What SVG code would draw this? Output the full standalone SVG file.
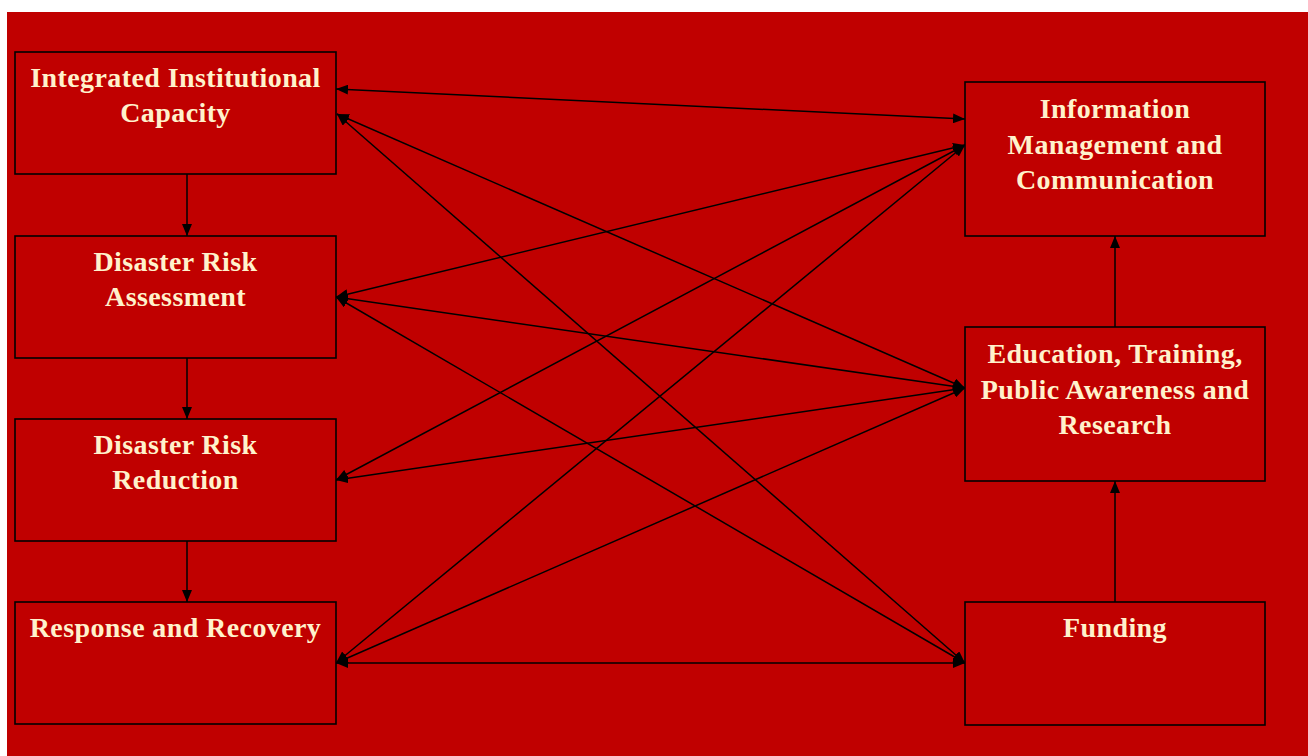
<svg xmlns="http://www.w3.org/2000/svg" width="1308" height="756" viewBox="0 0 1308 756">
<style>
.box{fill:#C00000;stroke:#000;stroke-width:1.6}
.lbl{font-family:"Liberation Serif","Times New Roman",serif;font-weight:bold;font-size:28px;letter-spacing:0.4px;fill:#FFF2CC;text-anchor:middle}
.con{stroke:#000;stroke-width:1.5;fill:none}
.bi{marker-start:url(#ah);marker-end:url(#ah)}
.uni{marker-end:url(#ah)}
</style>
<defs>
<marker id="ah" markerUnits="userSpaceOnUse" markerWidth="13" markerHeight="10" refX="12" refY="5" orient="auto-start-reverse">
<path d="M0,0 L12,5 L0,10 z" fill="#000"/>
</marker>
</defs>
<rect x="0" y="0" width="1308" height="756" fill="#FFFFFF"/>
<rect x="7" y="12" width="1301" height="744" fill="#C00000"/>

<g id="connectors">
<line class="con bi" x1="336" y1="89" x2="965" y2="119"/>
<line class="con bi" x1="337" y1="114" x2="965" y2="388"/>
<line class="con bi" x1="337" y1="114" x2="965" y2="663"/>
<line class="con bi" x1="336" y1="297" x2="965" y2="145"/>
<line class="con bi" x1="336" y1="297" x2="965" y2="388"/>
<line class="con bi" x1="336" y1="297" x2="965" y2="663"/>
<line class="con bi" x1="336" y1="480" x2="965" y2="145"/>
<line class="con bi" x1="336" y1="480" x2="965" y2="388"/>
<line class="con bi" x1="336" y1="663" x2="965" y2="145"/>
<line class="con bi" x1="336" y1="663" x2="965" y2="388"/>
<line class="con bi" x1="336" y1="663" x2="965" y2="663"/>
<line class="con uni" x1="187" y1="174" x2="187" y2="236"/>
<line class="con uni" x1="187" y1="358" x2="187" y2="419"/>
<line class="con uni" x1="187" y1="541" x2="187" y2="602"/>
<line class="con uni" x1="1115" y1="602" x2="1115" y2="481"/>
<line class="con uni" x1="1115" y1="327" x2="1115" y2="236"/>
</g>

<g id="iic">
<rect class="box" x="15" y="52" width="321" height="122"/>
<text class="lbl" x="175.5" y="87">Integrated Institutional</text>
<text class="lbl" x="175.5" y="122">Capacity</text>
</g>
<g id="dra">
<rect class="box" x="15" y="236" width="321" height="122"/>
<text class="lbl" x="175.5" y="271">Disaster Risk</text>
<text class="lbl" x="175.5" y="306">Assessment</text>
</g>
<g id="drr">
<rect class="box" x="15" y="419" width="321" height="122"/>
<text class="lbl" x="175.5" y="454">Disaster Risk</text>
<text class="lbl" x="175.5" y="489">Reduction</text>
</g>
<g id="rr">
<rect class="box" x="15" y="602" width="321" height="122"/>
<text class="lbl" x="175.5" y="637">Response and Recovery</text>
</g>
<g id="imc">
<rect class="box" x="965" y="82" width="300" height="154"/>
<text class="lbl" x="1115" y="118">Information</text>
<text class="lbl" x="1115" y="154">Management and</text>
<text class="lbl" x="1115" y="189">Communication</text>
</g>
<g id="etpar">
<rect class="box" x="965" y="327" width="300" height="154"/>
<text class="lbl" x="1115" y="363">Education, Training,</text>
<text class="lbl" x="1115" y="399">Public Awareness and</text>
<text class="lbl" x="1115" y="434">Research</text>
</g>
<g id="funding">
<rect class="box" x="965" y="602" width="300" height="123"/>
<text class="lbl" x="1115" y="637">Funding</text>
</g>
</svg>
